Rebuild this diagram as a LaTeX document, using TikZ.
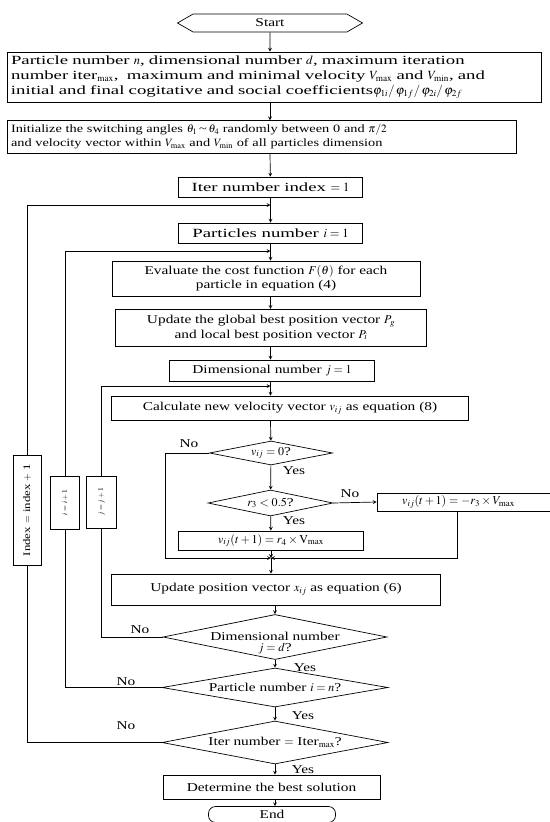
\documentclass[tikz,border=0pt]{standalone}
\usepackage{mathptmx}
\usepackage{fontspec}
\setmainfont[FakeStretch=1.28]{Liberation Serif}
\newfontfamily\widefont[FakeStretch=1.5]{Liberation Serif}
\usetikzlibrary{arrows, shapes, positioning}

\tikzset{
  every node/.style = {font=\fontsize{12}{14.5}\selectfont},
  box/.style = {draw, line width=0.7pt, inner sep=2pt, align=center},
  bigbox/.style = {box, font=\widefont\fontsize{12.5}{14.8}\selectfont},
  decision/.style = {draw, diamond, line width=0.7pt, inner sep=0pt},
  loopbox/.style = {draw, line width=0.7pt, fill=white, rotate=90, inner sep=2pt},
  lbl/.style = {inner sep=0pt},
}

\begin{document}
\begin{tikzpicture}[x=1pt, y=-1pt, >=stealth, line width=0.7pt]
  \useasboundingbox (0, 0) rectangle (549, 822);
%    \tikzstyle{every node} = [draw]
    \node [draw, signal, signal to=west and east, signal pointer angle=60,
      minimum width=185, minimum height=18, inner sep=0pt] (start) at (270, 23) {Start};
    \node [bigbox, text width=526, align=left, inner sep=4pt] (params) at (274, 77)
      {Particle number $n$, dimensional number $d$, maximum iteration\\
       number iter$_{\max}$,\ \ maximum and minimal velocity $V_{\max}$ and $V_{\min}$, and\\
       initial and final cogitative and social coefficients$\varphi_{1i}/\,\varphi_{1f}/\,\varphi_{2i}/\,\varphi_{2f}$};
    \node [box, text width=501, align=left, inner sep=4pt, font=\fontsize{11.2}{14}\selectfont] (initz) at (261.5, 137)
      {Initialize the switching angles $\theta_1$\,\textasciitilde\,$\theta_4$ randomly between 0 and $\pi/2$\\
       and velocity vector within $V_{\max}$ and $V_{\min}$ of all particles dimension};
    \node [bigbox, minimum width=184, minimum height=20] (iter1) at (270.5, 187) {Iter number index $=1$};
    \node [bigbox, minimum width=184, minimum height=20] (part1) at (270.5, 233) {Particles number $i=1$};
    \node [box, minimum width=308, minimum height=35] (cost) at (266, 278.5)
      {Evaluate the cost function $F(\theta)$ for each\\ particle in equation (4)};
    \node [box, minimum width=311, minimum height=37.5] (best) at (271, 328)
      {Update the global best position vector $P_g$\\ and local best position vector $P_i$};
    \node [box, minimum width=205, minimum height=21] (dim1) at (272, 370.5) {Dimensional number $j=1$};
    \node [box, minimum width=357, minimum height=24] (vel) at (290, 408)
      {Calculate new velocity vector $v_{ij}$ as equation (8)};
    \node [decision, minimum width=123, minimum height=24, label={center:$v_{ij}=0$?}] (dz) at (271, 453) {};
    \node [decision, minimum width=125, minimum height=26, label={center:$r_3<0.5$?}] (dr) at (270.5, 503) {};
    \node [box, minimum width=183, minimum height=18, inner sep=1pt] (vneg) at (468.5, 502)
      {$v_{ij}(t+1)=-r_3\times V_{\max}$\hspace{20pt}};
    \node [box, minimum width=185.5, minimum height=19] (vpos) at (271, 540.5)
      {$v_{ij}(t+1)=r_4\times \mathrm{V}_{\max}$};
    \coordinate (mg) at (271, 558);
    \node [box, minimum width=329.5, minimum height=31] (upd) at (276, 589.5)
      {Update position vector $x_{ij}$ as equation (6)};
    \node [decision, minimum width=224, minimum height=45,
      label={[align=center, yshift=-6pt]center:Dimensional number\\[-4pt] $j=d$?}] (dd) at (275, 637) {};
    \node [decision, minimum width=226, minimum height=39,
      label={center:Particle number $i=n$?}] (dp) at (275, 687.5) {};
    \node [decision, minimum width=226, minimum height=43,
      label={center:Iter number $=$ Iter$_{\max}$?}] (di) at (275, 742.5) {};
    \node [box, minimum width=217, minimum height=24] (sol) at (271.5, 787) {Determine the best solution};
    \node [box, rounded corners=7pt, minimum width=127, minimum height=16, inner sep=0pt] (end) at (272, 814.5) {End};

    % main column
    \draw [->] (start) -- (start |- params.north);
    \draw [->] (start |- params.south) -- (start |- initz.north);
    \draw [->] (start |- initz.south) -- (iter1);
    \draw [->] (iter1) -- (part1);
    \draw [->] (part1) -- (part1 |- cost.north);
    \draw [->] (part1 |- cost.south) -- (part1 |- best.north);
    \draw [->] (part1 |- best.south) -- (part1 |- dim1.north);
    \draw [->] (part1 |- dim1.south) -- (part1 |- vel.north);
    \draw [->] (part1 |- vel.south) -- (dz);
    \draw [->] (dz) -- (dr);
    \draw [->] (dr) -- (vpos);
    \draw [->] (dr.east) -- (vneg.west);
    \draw [->] (vpos) -- (mg);
    \draw [->] ([xshift=-11.5pt]vneg.south) |- (mg);
    \draw [->] (dz.west) -- ++(-44, 0) |- (mg);
    \draw [->] (mg) -- (mg |- upd.north);
    \draw [->] (dd |- upd.south) -- (dd.north);
    \draw [->] (dd.south) -- (dp.north);
    \draw [->] (dp.south) -- (di.north);
    \draw [->] (di.south) -- (di |- sol.north);
    \draw [->] (di |- sol.south) -- (di |- end.north);

    % loops back
    \coordinate (jn1) at (270.5, 205);
    \coordinate (jn2) at (270.5, 251);
    \coordinate (jn3) at (270.5, 386);
    \node [loopbox, minimum width=110, minimum height=28, font=\fontsize{10}{12}\selectfont] (idx) at (27, 510) {Index $=$ index $+$ 1};
    \node [loopbox, minimum width=53, minimum height=29, font=\fontsize{7.5}{9}\selectfont] (iinc) at (65, 502.5) {$i=i+1$};
    \node [loopbox, minimum width=52, minimum height=30, font=\fontsize{7.5}{9}\selectfont] (jinc) at (101.5, 502) {$j=j+1$};
    \draw (di.west) -| (idx.west);
    \draw (dp.west) -| (iinc.west);
    \draw (dd.west) -| (jinc.west);
    \draw [->] (idx.east) |- (jn1);
    \draw [->] (iinc.east) |- (jn2);
    \draw [->] (jinc.east) |- (jn3);

    % labels
    \node [lbl] (no1) at (189, 444) {No};
    \node [lbl] (yes1) at (294, 471) {Yes};
    \node [lbl] (no2) at (350, 494) {No};
    \node [lbl] (yes2) at (294, 521) {Yes};
    \node [lbl] (no3) at (140, 630) {No};
    \node [lbl] (yes3) at (305, 668) {Yes};
    \node [lbl] (no4) at (126, 682) {No};
    \node [lbl] (yes4) at (303, 715.5) {Yes};
    \node [lbl] (no5) at (126, 726) {No};
    \node [lbl] (yes5) at (303, 770) {Yes};
  \end{tikzpicture}
\end{document}
